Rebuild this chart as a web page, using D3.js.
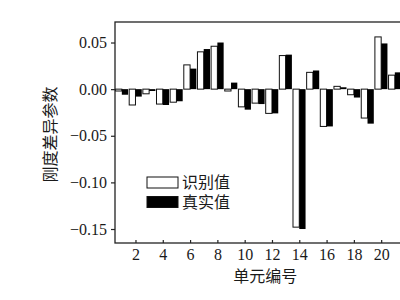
<!DOCTYPE html>
<html>
<head>
<meta charset="utf-8">
<script src="https://cdn.jsdelivr.net/npm/d3@7"></script>
<style>
  body { margin: 0; background: #fff; }
  svg text { font-family: "Liberation Serif", "Noto Sans CJK SC", serif; fill: #1a1a1a; }
</style>
</head>
<body>
<script>
// element numbers 1..21
const units = d3.range(1, 22);
// 识别值 (identified)
const identified = [-0.002, -0.017, -0.005, -0.016, -0.014, 0.026, 0.040, 0.046, -0.002, -0.019,
  -0.015, -0.026, 0.036, -0.148, 0.018, -0.040, 0.003, -0.006, -0.031, 0.056, 0.015];
// 真实值 (true)
const actual = [-0.006, -0.008, -0.002, -0.017, -0.013, 0.022, 0.043, 0.050, 0.007, -0.022,
  -0.016, -0.026, 0.037, -0.150, 0.020, -0.040, 0.002, -0.009, -0.037, 0.049, 0.018];
const xTicks = [2, 4, 6, 8, 10, 12, 14, 16, 18, 20];
const yTicks = [0.05, 0.00, -0.05, -0.10, -0.15];
const seriesNames = ["识别值", "真实值"];

function main() {
  const width = 400;
  const height = 300;
  const marginTop = 22;
  const marginLeft = 115;
  const plotBottom = 243;
  const plotRight = 415.3;

  const x = d3.scaleLinear()
    .domain([0.5, 22.5])
    .range([marginLeft, plotRight]);

  const y = d3.scaleLinear()
    .domain([-0.165, 0.072])
    .range([plotBottom, marginTop]);

  const unitW = x(2) - x(1);
  const barW = unitW * 0.46;

  const svg = d3.create("svg")
    .attr("width", width)
    .attr("height", height);

  // bars
  const rows = units.map((u, i) => ({ u, a: identified[i], b: actual[i] }));

  svg.append("g")
    .selectAll("rect")
    .data(rows)
    .join("rect")
    .attr("x", d => x(d.u) - barW)
    .attr("y", d => y(Math.max(0, d.a)))
    .attr("width", barW)
    .attr("height", d => Math.abs(y(d.a) - y(0)))
    .attr("fill", "#fff")
    .attr("stroke", "#111")
    .attr("stroke-width", 1);

  svg.append("g")
    .selectAll("rect")
    .data(rows)
    .join("rect")
    .attr("x", d => x(d.u))
    .attr("y", d => y(Math.max(0, d.b)))
    .attr("width", barW)
    .attr("height", d => Math.abs(y(d.b) - y(0)))
    .attr("fill", "#000");

  // frame
  svg.append("rect")
    .attr("x", marginLeft)
    .attr("y", marginTop)
    .attr("width", plotRight - marginLeft)
    .attr("height", plotBottom - marginTop)
    .attr("fill", "none")
    .attr("stroke", "#222")
    .attr("stroke-width", 1.3);

  // axes
  const yAxis = svg.append("g")
    .attr("transform", `translate(${marginLeft},0)`)
    .call(d3.axisLeft(y).tickValues(yTicks).tickFormat(d3.format(".2f")).tickSizeOuter(0).tickSize(4).tickPadding(4));
  yAxis.select(".domain").remove();
  yAxis.selectAll("line").attr("stroke", "#222").attr("stroke-width", 1.2);
  yAxis.selectAll("text").attr("font-size", 16).attr("font-family", null).text(d => d3.format(".2f")(d).replace("-", "\u2212"));

  const xAxis = svg.append("g")
    .attr("transform", `translate(0,${plotBottom})`)
    .call(d3.axisBottom(x).tickValues(xTicks).tickSizeOuter(0).tickSize(-3).tickPadding(6));
  xAxis.select(".domain").remove();
  xAxis.selectAll("line").attr("stroke", "#222").attr("stroke-width", 1.2);
  xAxis.selectAll("text").attr("font-size", 16).attr("font-family", null);

  // axis titles
  svg.append("text")
    .attr("x", (marginLeft + plotRight) / 2)
    .attr("y", 282)
    .attr("text-anchor", "middle")
    .attr("font-size", 16)
    .text("单元编号");

  svg.append("text")
    .attr("transform", `translate(56,${(marginTop + plotBottom) / 2 + 2}) rotate(-90)`)
    .attr("text-anchor", "middle")
    .attr("font-size", 16)
    .text("刚度差异参数");

  // legend
  const legend = svg.append("g")
    .selectAll("g")
    .data(seriesNames)
    .join("g")
    .attr("transform", (d, i) => `translate(147,${177 + i * 19.5})`);
  legend.append("rect")
    .attr("width", 31)
    .attr("height", 11)
    .attr("fill", (d, i) => i === 0 ? "#fff" : "#000")
    .attr("stroke", "#111")
    .attr("stroke-width", 1);
  legend.append("text")
    .attr("x", 35)
    .attr("y", 5.5)
    .attr("dy", "0.35em")
    .attr("font-size", 16)
    .text(d => d);

  document.body.appendChild(svg.node());
}

main();
</script>
</body>
</html>
